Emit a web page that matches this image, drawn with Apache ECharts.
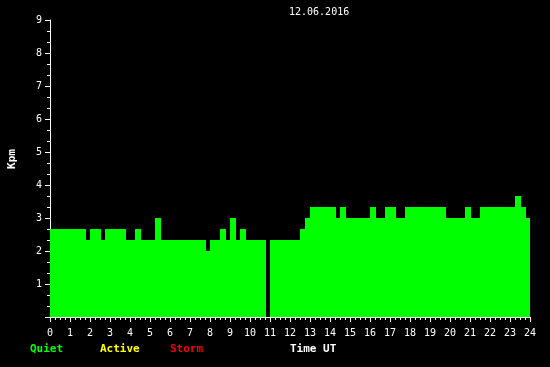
<!DOCTYPE html>
<html><head><meta charset="utf-8">
<script src="https://cdn.jsdelivr.net/npm/echarts@6/dist/echarts.min.js"></script>
<style>html,body{margin:0;padding:0;background:#000;}#c{width:550px;height:367px;}</style>
</head><body><div id="c"></div>
<script>
// Segment start times (hours UT) and Kpm values; each segment ends at the next start.
var segStart = [0, 1.8, 2.0, 2.55, 2.75, 3.8, 4.25, 4.55, 5.25, 5.55, 7.8, 8.0, 8.5, 8.8, 9.0, 9.3, 9.5, 9.8, 10.8, 11.0,
  12.5, 12.75, 13.0, 14.3, 14.5, 14.8, 16.0, 16.3, 16.75, 17.3, 17.75, 19.8, 20.75, 21.05, 21.5, 23.25, 23.55, 23.8];
var dayEnd = 24;
var kpm = [2.667, 2.333, 2.667, 2.333, 2.667, 2.333, 2.667, 2.333, 3.0, 2.333, 2.0, 2.333, 2.667, 2.333, 3.0, 2.333, 2.667, 2.333, 0, 2.333,
  2.667, 3.0, 3.333, 3.0, 3.333, 3.0, 3.333, 3.0, 3.333, 3.0, 3.333, 3.0, 3.333, 3.0, 3.333, 3.667, 3.333, 3.0];
var xTicks = [0,1,2,3,4,5,6,7,8,9,10,11,12,13,14,15,16,17,18,19,20,21,22,23,24];
var yTicks = [1,2,3,4,5,6,7,8,9];
var dateLabel = '12.06.2016';

var data = segStart.map(function (s, i) {
  return [s, i + 1 < segStart.length ? segStart[i + 1] : dayEnd, kpm[i]];
});

var mono = '"DejaVu Sans Mono", monospace';
var chart = echarts.init(document.getElementById('c'), null, {renderer: 'canvas'});
chart.setOption({
  backgroundColor: '#000',
  animation: false,
  grid: {left: 50, right: 20, top: 20, bottom: 50},
  xAxis: {
    type: 'value', min: 0, max: 24, interval: 1,
    axisLine: {show: true, lineStyle: {color: '#fff', width: 1}},
    axisTick: {show: true, length: 5, lineStyle: {color: '#fff'}},
    minorTick: {show: true, splitNumber: 4, length: 3, lineStyle: {color: '#fff'}},
    splitLine: {show: false},
    axisLabel: {color: '#fff', fontFamily: mono, fontSize: 10, margin: 11,
      formatter: function (v) { return xTicks.indexOf(v) >= 0 ? String(v) : ''; }}
  },
  yAxis: {
    type: 'value', min: 0, max: 9, interval: 1,
    axisLine: {show: true, lineStyle: {color: '#fff', width: 1}},
    axisTick: {show: true, length: 5, lineStyle: {color: '#fff'}},
    minorTick: {show: true, splitNumber: 3, length: 3, lineStyle: {color: '#fff'}},
    splitLine: {show: false},
    axisLabel: {color: '#fff', fontFamily: mono, fontSize: 10, margin: 8,
      formatter: function (v) { return yTicks.indexOf(v) >= 0 ? String(v) : ''; }}
  },
  graphic: [
    {type: 'text', left: 289, top: 7, style: {text: dateLabel, fill: '#fff', font: '10px ' + mono}},
    {type: 'text', left: 30, top: 344, style: {text: 'Quiet', fill: '#00ff00', font: 'bold 11px ' + mono}},
    {type: 'text', left: 100, top: 344, style: {text: 'Active', fill: '#ffff00', font: 'bold 11px ' + mono}},
    {type: 'text', left: 170, top: 344, style: {text: 'Storm', fill: '#ff0000', font: 'bold 11px ' + mono}},
    {type: 'text', left: 290, top: 344, style: {text: 'Time UT', fill: '#fff', font: 'bold 11px ' + mono}},
    {type: 'text', x: 7, y: 159, rotation: Math.PI / 2, style: {text: 'Kpm', fill: '#fff', font: 'bold 11px ' + mono, align: 'center', verticalAlign: 'top'}}
  ],
  series: [{
    type: 'custom',
    z: 5,
    data: data,
    encode: {x: [0, 1], y: 2},
    renderItem: function (params, api) {
      var p0 = api.coord([api.value(0), api.value(2)]);
      var p1 = api.coord([api.value(1), 0]);
      return {
        type: 'rect',
        shape: {x: p0[0], y: p0[1], width: p1[0] - p0[0], height: p1[1] - p0[1]},
        style: {fill: '#00ff00'}
      };
    }
  }]
});
</script></body></html>
